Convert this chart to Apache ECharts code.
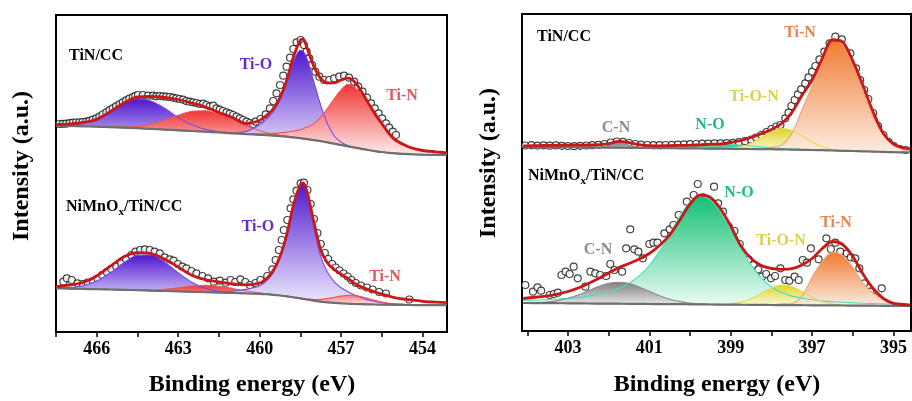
<!DOCTYPE html>
<html><head><meta charset="utf-8">
<script src="https://cdn.jsdelivr.net/npm/echarts@6/dist/echarts.min.js"></script>
<style>html,body{margin:0;padding:0;background:#fff}#c{width:912px;height:401px}</style>
</head><body><div id="c"></div>
<script>
// ---------- Ti 2p panel (left) ----------
const tiE = [467.5,467,466.5,466,465.5,465,464.5,464,463.5,463,462.5,462,461.5,461,460.5,460,459.75,459.5,459.25,459,458.75,458.5,458.4,458.25,458,457.75,457.5,457.25,457,456.75,456.5,456.25,456,455.75,455.5,455.25,455,454.5,454,453.5,453.1];
const tiTicks = [466,463,460,457,454];
const tiTickMarks = [467.5,466,464.5,463,461.5,460,458.5,457,455.5,454];
// TiN/CC
const tiTopBase = [206.5,206,205.7,205.3,204.9,204.4,203.8,203.1,202.4,201.7,201,200.3,199.5,198.7,197.9,197.2,196.8,196.4,195.9,195.3,194.6,193.8,193.4,192.9,191.9,190.8,189.6,188.3,187,185.7,184.4,183.2,182,180.9,180,179.2,178.6,177.8,177.4,177.1,177];
const tiTopTiO1 = [0.3,1.2,3.6,8.6,16.2,24.4,29.2,27.9,21.3,12.9,6.2,2.4,0.7,0.2,0,0,0,0,0,0,0,0,0,0,0,0,0,0,0,0,0,0,0,0,0,0,0,0,0,0,0];
const tiTopTiN1 = [0,0,0,0.1,0.3,0.7,1.9,4.7,9.3,15,19.7,21,18.5,14,8.5,4,2.5,1.5,0.8,0.4,0.2,0.1,0.1,0,0,0,0,0,0,0,0,0,0,0,0,0,0,0,0,0,0];
const tiTopTiO2 = [0,0,0,0,0,0,0,0,0,0,0,0,0,0.4,2.7,10,16,24,36,55,76,88,87.5,80,58,36,18.5,7.7,2.7,0.8,0.2,0,0,0,0,0,0,0,0,0,0];
const tiTopTiN2 = [0,0,0,0,0,0,0,0,0,0,0,0,0,0.3,0.6,1,1.5,2.2,3.2,4.6,6.4,8.6,9.8,12,16.5,24,34,45,55,62,60,54,46.5,39,30,21,14,7,4,2.8,2.2];
const tiTopFit = [207.5,208,209.5,212.5,220.5,229,235,235.5,234.5,232.5,229,225,219.5,214.5,208.5,211.5,216.5,223,234.5,252,275.5,292,292.8,283.5,265.3,253.5,249,249.3,252,253.8,250,240.5,229,218,208.2,199,192,185,181.5,180.2,179.2];
const tiTopPts = [[467.38,208],[467.25,208.2],[467.13,208.3],[467.0,208.8],[466.88,209.3],[466.76,209.5],[466.64,209.7],[466.52,210],[466.39,210.3],[466.27,211.2],[466.15,212.3],[466.02,213.6],[465.9,215.3],[465.78,217.5],[465.65,219.7],[465.53,221.8],[465.41,223.7],[465.29,225.7],[465.16,227.7],[465.04,229.7],[464.92,231.7],[464.8,233.4],[464.67,235],[464.58,236.2],[464.48,237],[464.3,237],[464.11,236.3],[463.93,236.3],[463.81,235.7],[463.68,236],[463.56,235.7],[463.44,235.3],[463.31,235],[463.19,234.3],[463.07,233.7],[462.95,233],[462.82,232.3],[462.7,231],[462.58,230.3],[462.45,229.7],[462.33,229],[462.21,228],[462.08,228.3],[461.96,227],[461.84,225.7],[461.71,226.3],[461.59,223.7],[461.47,222.3],[461.35,221],[461.22,219.7],[461.1,218.3],[460.98,217],[460.85,215.3],[460.73,213.7],[460.61,212],[460.48,210.3],[460.36,209],[460.24,208],[460.15,210.3],[459.97,213],[459.78,217.7],[459.62,223.7],[459.5,231],[459.38,238.7],[459.25,247],[459.13,256.3],[459.01,265.3],[458.88,274.3],[458.76,283],[458.64,289.7],[458.49,292],[458.37,287],[458.27,280.3],[458.17,273.7],[458.07,267],[457.95,260.3],[457.8,255.3],[457.63,252],[457.44,252],[457.26,253.7],[457.07,255.3],[456.89,256.3],[456.71,254.3],[456.52,250.3],[456.37,245.3],[456.21,240.3],[456.05,234.3],[455.9,228.7],[455.76,223.7],[455.62,218.7],[455.49,213.7],[455.35,208.7],[455.23,204.3],[455.1,200.3],[454.98,197]];
// NiMnOx/TiN/CC
const tiBotBase = [43.7,43.4,43.1,42.8,42.5,42.2,41.8,41.4,41,40.6,40.2,39.8,39.4,39,38.6,38.2,37.8,37.2,36.5,35.7,34.7,33.7,33.2,32.5,31.3,30.4,29.7,29.1,28.7,28.3,28,27.8,27.6,27.5,27.4,27.3,27.2,27,26.9,26.8,26.8];
const tiBotTiO1 = [0.2,1,3.2,8.1,16.7,27.1,34.9,35.7,29,18.7,9.6,3.9,1.3,0.3,0.1,0,0,0,0,0,0,0,0,0,0,0,0,0,0,0,0,0,0,0,0,0,0,0,0,0,0];
const tiBotTiN1 = [0,0,0,0,0,0,0.2,0.6,1.7,3.6,5.7,7,6.4,4.5,2.4,0.9,0.5,0.3,0.1,0,0,0,0,0,0,0,0,0,0,0,0,0,0,0,0,0,0,0,0,0,0];
const tiBotTiO2 = [0,0,0,0,0,0,0,0,0,0,0,0.3,0.8,1.8,4,8,13,22,37,60,90,113,116.3,108,74,45,30,21,15.5,12,9,6.5,4.5,3,2,1.2,0.7,0.3,0,0,0];
const tiBotTiN2 = [0,0,0,0,0,0,0,0,0,0,0,0,0,0,0,0,0,0,0,0,0,0.2,0.3,0.5,1.2,2.2,3.7,5.5,7.2,8.3,8.4,7.5,5.9,4.1,2.5,1.5,1,0.5,0.3,0.2,0.1];
const tiBotFit = [45.3,47,49.5,56,65.8,75.2,79.3,78.5,73,65,56.8,52.3,50,48,47.2,49,53.3,61.5,75.5,97.5,127.5,147.5,149,140,109.5,82,69,62.5,57.8,53.5,48.5,45,42.4,40,37.8,36,34.2,32.3,30.7,29.8,29.3];
const tiBotPts = [[467.23,50.3],[467.1,53.7],[466.92,52],[466.71,48.7],[466.51,48],[466.34,49.3],[466.14,51],[465.97,53.3],[465.8,57],[465.63,60],[465.47,63],[465.28,65.3],[465.1,68.7],[464.92,72.7],[464.73,77],[464.57,80.3],[464.4,82],[464.23,82.7],[464.05,82],[463.87,80.3],[463.68,78.7],[463.5,74.7],[463.31,72.7],[463.17,71.3],[463.01,68],[462.85,65.3],[462.7,63.7],[462.51,61],[462.33,58.7],[462.11,56],[461.9,53.7],[461.69,50.3],[461.47,51.3],[461.25,49.3],[461.07,52],[460.9,50],[460.71,52.7],[460.53,50],[460.36,47],[460.15,49],[459.97,52],[459.72,56],[459.53,62.7],[459.41,72],[459.29,82],[459.19,92],[459.11,102],[458.98,112],[458.86,123.7],[458.76,132.7],[458.64,141.3],[458.49,148.7],[458.37,149.3],[458.24,142],[458.12,128],[458.0,113],[457.87,99],[457.75,88],[457.6,79],[457.48,73],[457.33,68],[457.2,64.5],[457.06,61.5],[456.91,58.5],[456.76,55.5],[456.62,52],[456.46,49],[456.27,46.5],[456.05,44.5],[455.84,42.5],[455.6,40],[455.35,38.5],[454.49,32.5]];

// ---------- N 1s panel (right) ----------
const nE = [404.1,404,403.75,403.5,403.25,403,402.75,402.5,402.25,402,401.75,401.5,401.25,401,400.75,400.5,400.25,400,399.75,399.5,399.25,399,398.75,398.5,398.25,398,397.75,397.5,397.25,397,396.75,396.5,396.25,396,395.75,395.5,395.25,395,394.75,394.6];
const nTicks = [403,401,399,397,395];
const nTickMarks = [404,403,402,401,400,399,398,397,396,395];
// TiN/CC
const nTopBase = [184.2,184.2,184.1,184,183.9,183.8,183.7,183.6,183.5,183.4,183.3,183.2,183.1,183,182.9,182.8,182.7,182.6,182.5,182.4,182.3,182.2,182.1,182,181.9,181.8,181.6,181.4,181.2,181,180.8,180.5,180.2,180,179.7,179.4,179.1,178.8,178.6,178.5];
const nTopCN = [0,0,0,0,0,0,0,0,0.4,1.9,5,2.7,0.6,0,0,0,0,0,0,0,0,0,0,0,0,0,0,0,0,0,0,0,0,0,0,0,0,0,0,0];
const nTopNO = [0,0,0,0,0,0,0,0,0,0,0,0.2,0.45,0.75,1.2,1.8,2.55,3.3,3.9,4.35,4.5,4.3,3.75,3,2.25,1.65,1.05,0.6,0.3,0.15,0.05,0,0,0,0,0,0,0,0,0];
const nTopTiON = [0,0,0,0,0,0,0,0,0,0,0,0,0,0,0,0,0,0,0,0,0.2,0.7,2.3,5.8,11.5,17.5,20.9,19.4,14,7.9,3.5,1.2,0.3,0.1,0,0,0,0,0,0];
const nTopTiN = [0,0,0,0,0,0,0,0,0,0,0,0,0,0,0,0,0,0,0,0,0,0,0,0.2,0.6,1.8,4.5,16,40,64,90,112.5,106,86.9,59.8,35,17.4,7.4,2.7,1.3];
const nTopFit = [185,185.2,185.4,185.6,185.7,185.8,185.9,186,186.4,187.3,189.6,188.4,186.3,185.3,185.2,185.4,185.6,185.8,186.2,186.8,187.1,188.5,190.5,193.5,197.3,201.5,207.5,218.5,235.5,251,272.7,291,289,270.2,245.5,219,197.5,187,183,182.3];
const nTopPts = [[404.05,185.5],[403.9,185.8],[403.75,185.4],[403.6,185.7],[403.45,185.3],[403.3,185.6],[403.15,185.2],[403.0,185],[402.85,184.8],[402.7,185.2],[402.55,185.5],[402.4,185.8],[402.25,186.2],[402.1,187],[401.95,188.5],[401.8,189.5],[401.65,189.2],[401.5,188],[401.35,187],[401.2,186.3],[401.05,186],[400.9,185.8],[400.75,185.8],[400.6,186],[400.45,186.2],[400.3,186.4],[400.15,186.6],[400.0,186.8],[399.85,187],[399.7,187.3],[399.55,187.4],[399.4,187.6],[399.25,187.6],[399.1,187.8],[398.95,188.2],[398.8,188.8],[398.65,189.8],[398.5,191.5],[398.38,193.5],[398.25,196],[398.12,199],[398.0,202],[397.88,204.5],[397.78,206],[397.66,212.7],[397.58,218.3],[397.51,225],[397.43,231],[397.35,236.7],[397.27,241.7],[397.17,247.7],[397.09,253.7],[397.0,259.3],[396.92,265],[396.82,271.7],[396.7,279.3],[396.57,287.7],[396.43,294.3],[396.27,291.7],[396.06,277.7],[395.92,262.7],[395.82,251],[395.72,241],[395.62,232],[395.5,218],[395.38,205],[395.25,196],[395.12,189],[395.0,185],[394.85,182],[394.7,181]];
// NiMnOx/TiN/CC
const nBotBase = [28,28,27.9,27.9,27.8,27.7,27.6,27.5,27.4,27.4,27.3,27.2,27.1,27,26.9,26.8,26.8,26.7,26.6,26.5,26.4,26.4,26.3,26.2,26.1,26,25.9,25.9,25.8,25.7,25.6,25.6,25.5,25.4,25.3,25.3,25.2,25.1,25,25];
const nBotCN = [0.1,0.2,0.5,1.2,2.6,5,8.4,12.7,17,20.3,21.5,20.3,17,12.7,8.4,5,2.6,1.2,0.5,0.2,0.1,0,0,0,0,0,0,0,0,0,0,0,0,0,0,0,0,0,0,0];
const nBotNO = [2.5,2.7,3.1,3.6,4.2,5,6,7.4,9.2,11.8,15.4,20.5,28,38.5,53,70,88,102,108.2,104.6,92,75,57,40,27,18,12.5,9,7,5.5,4.5,3.8,3.2,2.8,2.4,2.1,1.9,1.7,1.5,1.4];
const nBotTiON = [0,0,0,0,0,0,0,0,0,0,0,0,0,0,0,0,0,0,0,0.05,0.2,0.9,2.6,6.1,11.4,16.9,20,18.6,13.7,8.1,3.8,1.4,0.4,0.1,0,0,0,0,0,0];
const nBotTiN = [0,0,0,0,0,0,0,0,0,0,0,0,0,0,0,0,0,0,0,0,0,0,0,0,0,0.2,1.2,1.5,9,28,44,53,50,38,22.5,12.5,6.8,3.2,1.5,0.9];
const nBotFit = [32.5,33,34,35.2,37,39.5,43,47.5,52.5,58,63.5,67.5,72,77.5,85.5,96,111,127,136,133.5,122,105,85,72.5,65.5,62.5,61.7,62.3,66,72.5,82.5,89.5,86.5,74.5,57,42.5,32.5,27.7,26.5,26];
const nBotPts = [[404.05,46],[403.86,39.3],[403.75,43.7],[403.66,40.3],[403.45,36],[403.35,37],[403.25,38.3],[403.16,56],[403.06,59.3],[402.96,57],[402.86,64.3],[402.76,52.7],[402.57,44.3],[402.45,59.3],[402.33,57.7],[402.21,56],[402.06,55],[401.96,67],[401.86,61],[401.67,59.3],[401.57,82.7],[401.47,101.7],[401.37,81.7],[401.27,79.3],[401.16,72.7],[401.0,87],[400.9,88.3],[400.8,88.3],[400.63,97.7],[400.5,101.7],[400.41,106],[400.28,116],[400.08,129.3],[399.91,136],[399.81,147],[399.68,133.7],[399.41,144.3],[399.31,127.7],[399.19,119.3],[399.05,104.3],[398.91,100],[398.78,87],[398.67,75],[398.56,71.7],[398.44,66],[398.32,61.7],[398.23,54.3],[398.13,57],[398.01,52.7],[397.91,55],[397.78,62.7],[397.66,51],[397.56,50.3],[397.43,54.3],[397.33,51],[397.23,71],[397.13,68.3],[397.03,82.7],[396.84,71.7],[396.65,92.7],[396.54,82],[396.43,88.3],[396.31,79.3],[396.15,77.7],[396.05,73.7],[395.94,72.7],[395.84,62.7],[395.72,47.7],[395.57,39.3],[395.41,34.3],[395.29,42.7]];

// ---------- build ----------
const FONT = '"Liberation Serif", "Times New Roman", serif';
const chart = echarts.init(document.getElementById('c'));
function grad(top, bottom) {
  return new echarts.graphic.LinearGradient(0, 0, 0, 1, [{offset: 0, color: top}, {offset: 1, color: bottom}]);
}
const series = [];
let stackId = 0;
// values stored as [value, energy] and mapped with encode so the stack runs on the intensity axis
function addComponent(ax, E, base, h, lineColor, cTop, cBot) {
  const id = 'c' + (stackId++);
  series.push({type: 'line', xAxisIndex: ax, yAxisIndex: ax, stack: id, stackStrategy: 'all',
    data: E.map((e, i) => [base[i], e]), encode: {x: 1, y: 0},
    symbol: 'none', smooth: 0.3, lineStyle: {width: 0, opacity: 0}, silent: true, animation: false});
  series.push({type: 'line', xAxisIndex: ax, yAxisIndex: ax, stack: id, stackStrategy: 'all',
    data: E.map((e, i) => [h[i], e]), encode: {x: 1, y: 0},
    symbol: 'none', smooth: 0.3, lineStyle: {color: lineColor, width: 1.1},
    areaStyle: {color: grad(cTop, cBot), opacity: 1}, silent: true, animation: false});
}
function addLine(ax, E, v, color, width) {
  series.push({type: 'line', xAxisIndex: ax, yAxisIndex: ax, data: E.map((e, i) => [e, v[i]]),
    symbol: 'none', smooth: 0.3, lineStyle: {color: color, width: width}, silent: true, animation: false});
}
function addPts(ax, pts) {
  series.push({type: 'scatter', xAxisIndex: ax, yAxisIndex: ax, data: pts, symbol: 'circle', symbolSize: 7,
    itemStyle: {color: '#ffffff', borderColor: '#151515', borderWidth: 1.2}, silent: true, animation: false});
}
const PUR = ['#7a45ee', 'rgba(78,22,206,1)', 'rgba(240,236,255,1)'];
const RED = ['#f25555', 'rgba(240,52,52,1)', 'rgba(255,236,236,1)'];
const GRY = ['#8a8a8a', 'rgba(128,128,128,1)', 'rgba(236,236,236,1)'];
const GRN = ['#45e0c0', 'rgba(20,192,118,1)', 'rgba(236,252,244,1)'];
const YEL = ['#e2dc50', 'rgba(222,212,40,1)', 'rgba(252,251,226,1)'];
const ORG = ['#e8a57a', 'rgba(240,122,46,1)', 'rgba(253,236,226,1)'];
const BASEC = '#6f6f6f', FITC = '#c81818';

// left panel, top spectrum
addComponent(0, tiE, tiTopBase, tiTopTiO1, ...PUR);
addComponent(0, tiE, tiTopBase, tiTopTiN1, ...RED);
addComponent(0, tiE, tiTopBase, tiTopTiO2, ...PUR);
addComponent(0, tiE, tiTopBase, tiTopTiN2, ...RED);
addLine(0, tiE, tiTopBase, BASEC, 2.2);
addPts(0, tiTopPts);
addLine(0, tiE, tiTopFit, FITC, 2.8);
// left panel, bottom spectrum
addComponent(0, tiE, tiBotBase, tiBotTiO1, ...PUR);
addComponent(0, tiE, tiBotBase, tiBotTiN1, ...RED);
addComponent(0, tiE, tiBotBase, tiBotTiO2, ...PUR);
addComponent(0, tiE, tiBotBase, tiBotTiN2, ...RED);
addLine(0, tiE, tiBotBase, BASEC, 2.2);
addPts(0, tiBotPts);
addLine(0, tiE, tiBotFit, FITC, 2.8);
// right panel, top spectrum
addComponent(1, nE, nTopBase, nTopNO, ...GRN);
addComponent(1, nE, nTopBase, nTopCN, ...GRY);
addComponent(1, nE, nTopBase, nTopTiON, ...YEL);
addComponent(1, nE, nTopBase, nTopTiN, ...ORG);
addLine(1, nE, nTopBase, BASEC, 2.2);
addPts(1, nTopPts);
addLine(1, nE, nTopFit, FITC, 2.8);
// right panel, bottom spectrum
addComponent(1, nE, nBotBase, nBotNO, ...GRN);
addComponent(1, nE, nBotBase, nBotCN, ...GRY);
addComponent(1, nE, nBotBase, nBotTiON, ...YEL);
addComponent(1, nE, nBotBase, nBotTiN, ...ORG);
addLine(1, nE, nBotBase, BASEC, 2.2);
addPts(1, nBotPts);
addLine(1, nE, nBotFit, FITC, 2.8);

function xAxis(grid, min, max, labels, marks) {
  return {gridIndex: grid, type: 'value', inverse: true, min: min, max: max,
    axisLine: {show: false}, splitLine: {show: false},
    axisTick: {show: true, customValues: marks, length: 5, lineStyle: {color: '#000', width: 1.5}},
    axisLabel: {show: true, customValues: labels, margin: 8, color: '#000', fontFamily: FONT, fontWeight: 'bold', fontSize: 18}};
}
function txt(x, y, text, color, size, align, rot) {
  return {type: 'text', x: x, y: y, rotation: rot || 0, silent: true, z: 100,
    style: {text: text, fill: color, font: 'bold ' + size + 'px ' + FONT,
      textAlign: align || 'center', align: align || 'center', textVerticalAlign: 'middle', verticalAlign: 'middle'}};
}
function sub(x, y) {
  return {type: 'text', x: x, y: y, silent: true, z: 100,
    style: {text: '{a|NiMnO}{b|x}{a|/TiN/CC}', fill: '#000', textAlign: 'left', align: 'left',
      textVerticalAlign: 'middle', verticalAlign: 'middle',
      rich: {a: {fontFamily: FONT, fontWeight: 'bold', fontSize: 16, lineHeight: 22, fill: '#000'},
             b: {fontFamily: FONT, fontWeight: 'bold', fontSize: 11, lineHeight: 12, verticalAlign: 'bottom', fill: '#000'}}}};
}
const C_TiO = '#6a2bc6', C_TiN = '#e4585c', C_CN = '#8c8c8c', C_NO = '#1fb98a', C_TON = '#d8d24a', C_TiN2 = '#e4884e';

chart.setOption({
  animation: false,
  backgroundColor: '#ffffff',
  grid: [
    {left: 56, top: 15, width: 391, height: 317, show: true, borderColor: '#000', borderWidth: 2, backgroundColor: 'transparent', containLabel: false},
    {left: 522, top: 14, width: 389, height: 317, show: true, borderColor: '#000', borderWidth: 2, backgroundColor: 'transparent', containLabel: false}
  ],
  xAxis: [xAxis(0, 453.1, 467.5, tiTicks, tiTickMarks), xAxis(1, 394.57, 404.13, nTicks, nTickMarks)],
  yAxis: [{gridIndex: 0, type: 'value', min: 0, max: 317, show: false}, {gridIndex: 1, type: 'value', min: 0, max: 317, show: false}],
  series: series,
  graphic: {elements: [
    txt(22, 166, 'Intensity (a.u.)', '#000', 24, 'center', Math.PI / 2),
    txt(489, 163, 'Intensity (a.u.)', '#000', 24, 'center', Math.PI / 2),
    txt(252, 385, 'Binding energy (eV)', '#000', 24, 'center'),
    txt(717, 385, 'Binding energy (eV)', '#000', 24, 'center'),
    txt(69, 56, 'TiN/CC', '#000', 16, 'left'),
    txt(256, 65, 'Ti-O', C_TiO, 16),
    txt(402, 96, 'Ti-N', C_TiN, 16),
    sub(66, 207),
    txt(258, 227, 'Ti-O', C_TiO, 16),
    txt(385, 277, 'Ti-N', C_TiN, 16),
    txt(537, 37, 'TiN/CC', '#000', 16, 'left'),
    txt(800, 33, 'Ti-N', C_TiN2, 16),
    txt(754, 97, 'Ti-O-N', C_TON, 16),
    txt(710, 125, 'N-O', C_NO, 16),
    txt(616, 128, 'C-N', C_CN, 16),
    sub(528, 176),
    txt(739, 193, 'N-O', C_NO, 16),
    txt(598, 250, 'C-N', C_CN, 16),
    txt(781, 241, 'Ti-O-N', C_TON, 16),
    txt(836, 223, 'Ti-N', C_TiN2, 16)
  ]}
});
</script></body></html>
